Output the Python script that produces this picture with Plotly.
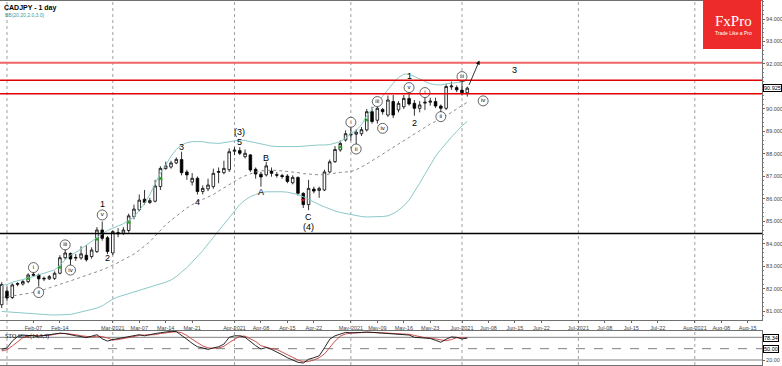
import pandas as pd
import plotly.graph_objects as go

# ---------------- data ----------------
dates = pd.bdate_range("2021-01-29", "2021-06-02")  # daily bars (weekdays)

open_ = [81.3, 81.9, 81.62, 82.2, 82.22, 82.33, 82.6, 82.62, 82.44, 82.45,
         82.47, 82.7, 83.39, 83.58, 83.37, 83.38, 83.5, 83.44, 83.66, 84.62,
         84.28, 83.6, 84.45, 84.48, 84.6, 85.22, 85.52, 85.99, 85.84, 85.9,
         86.55, 87.35, 87.42, 87.6, 87.75, 87.2, 86.75, 86.92, 86.33, 86.45,
         86.55, 87.18, 87.17, 87.3, 88.12, 88.15, 87.88, 87.96, 87.32, 87.1,
         87.07, 87.24, 87.08, 87.04, 87.02, 86.72, 86.96, 86.25, 85.75, 86.44,
         86.38, 86.4, 87.2, 87.66, 88.18, 88.62, 88.85, 88.88, 88.9, 89.07,
         89.88, 89.5, 89.98, 89.73, 90.33, 89.96, 90.1, 90.47, 90.25, 90.03,
         90.26, 90.3, 90.33, 90.13, 90.03, 90.98, 90.95, 90.84, 90.72]
high = [82.3, 82.1, 82.25, 82.3, 82.4, 82.7, 82.85, 82.68, 82.55, 82.62,
        82.78, 83.5, 83.8, 83.62, 83.55, 83.9, 83.95, 83.85, 84.75, 85.0,
        84.35, 84.6, 84.7, 84.75, 85.35, 85.75, 86.2, 86.4, 86.05, 86.85,
        87.45, 87.66, 87.7, 87.85, 88.1, 87.3, 87.15, 87.0, 86.6, 86.9,
        87.35, 87.4, 87.7, 88.25, 88.3, 88.3, 88.2, 88.0, 87.4, 87.2,
        87.65, 87.4, 87.2, 87.12, 87.1, 87.05, 87.0, 86.3, 86.85, 86.55,
        86.55, 87.3, 87.75, 88.35, 88.6, 89.05, 89.2, 89.1, 89.2, 90.0,
        90.1, 90.1, 90.05, 90.6, 90.62, 90.35, 90.62, 90.85, 90.4, 90.35,
        90.6, 90.5, 90.5, 90.2, 91.1, 91.22, 91.05, 91.3, 91.0]
low = [81.15, 81.45, 81.55, 82.12, 82.15, 82.25, 82.55, 82.1, 82.35, 82.4,
       82.4, 82.65, 83.3, 83.05, 83.25, 83.3, 83.22, 83.35, 83.6, 84.15,
       83.55, 83.5, 84.3, 84.4, 84.5, 85.1, 85.45, 85.75, 85.78, 85.85,
       86.4, 87.3, 87.35, 87.55, 87.05, 86.85, 86.6, 86.2, 86.2, 86.35,
       86.45, 86.7, 87.1, 87.2, 87.95, 87.95, 87.8, 87.2, 86.9, 86.55,
       87.0, 86.99, 86.95, 86.9, 86.7, 86.65, 86.15, 85.6, 85.5, 86.25,
       86.05, 86.35, 87.15, 87.6, 88.1, 88.55, 88.6, 88.4, 88.8, 89.0,
       89.35, 89.35, 89.75, 89.65, 89.6, 89.85, 90.0, 90.15, 89.7, 89.85,
       89.95, 90.15, 90.05, 89.8, 89.95, 90.85, 90.75, 90.6, 90.55]
close = [82.2, 81.6, 82.18, 82.24, 82.33, 82.62, 82.65, 82.45, 82.47, 82.55,
         82.7, 83.39, 83.6, 83.33, 83.4, 83.56, 83.3, 83.73, 84.62, 84.25,
         83.66, 84.55, 84.5, 84.62, 85.25, 85.55, 85.95, 85.85, 85.93, 86.58,
         87.36, 87.47, 87.6, 87.76, 87.17, 87.07, 86.92, 86.33, 86.47, 86.62,
         87.14, 87.22, 87.36, 88.1, 88.17, 88.03, 88.03, 87.29, 87.11, 86.98,
         87.47, 87.14, 87.06, 87.0, 86.78, 86.96, 86.25, 85.75, 86.47, 86.35,
         86.47, 87.2, 87.65, 88.2, 88.47, 88.9, 88.88, 88.97, 89.08, 89.88,
         89.44, 90.03, 89.88, 90.4, 89.73, 90.25, 90.47, 90.22, 90.03, 90.18,
         90.3, 90.35, 90.13, 90.03, 91.0, 91.02, 90.85, 90.72, 90.925]

bb_upper = [82.15, 82.2, 82.3, 82.35, 82.4, 82.48, 82.55, 82.62, 82.68, 82.75,
            82.85, 83.05, 83.3, 83.5, 83.62, 83.78, 83.95, 84.15, 84.3, 84.45,
            84.6, 84.7, 84.8, 84.9, 85.05, 85.2, 85.5, 85.8, 86.2, 86.65,
            87.15, 87.5, 87.9, 88.2, 88.4, 88.5, 88.55, 88.55, 88.55, 88.5,
            88.48, 88.47, 88.5, 88.55, 88.6, 88.62, 88.6, 88.55, 88.5, 88.42,
            88.38, 88.35, 88.33, 88.32, 88.32, 88.33, 88.33, 88.35, 88.37, 88.4,
            88.4, 88.4, 88.42, 88.48, 88.55, 88.7, 88.9, 89.05, 89.3, 89.7,
            90.0, 90.3, 90.6, 90.9, 91.15, 91.4, 91.55, 91.55, 91.45, 91.32,
            91.22, 91.12, 91.08, 91.07, 91.12, 91.15, 91.15, 91.2, 91.28]
bb_mid = [81.62, 81.65, 81.68, 81.72, 81.76, 81.8, 81.85, 81.9, 81.97, 82.05,
          82.12, 82.2, 82.28, 82.36, 82.44, 82.52, 82.6, 82.67, 82.75, 82.85,
          82.95, 83.05, 83.17, 83.3, 83.42, 83.55, 83.72, 83.9, 84.1, 84.35,
          84.6, 84.85, 85.05, 85.25, 85.42, 85.6, 85.75, 85.88, 85.98, 86.08,
          86.2, 86.35, 86.5, 86.65, 86.8, 86.92, 87.03, 87.12, 87.2, 87.25,
          87.28, 87.28, 87.27, 87.25, 87.22, 87.2, 87.17, 87.13, 87.1, 87.08,
          87.07, 87.08, 87.12, 87.15, 87.18, 87.2, 87.22, 87.3, 87.42, 87.55,
          87.7, 87.85, 88.0, 88.15, 88.3, 88.45, 88.6, 88.75, 88.9, 89.05,
          89.2, 89.33, 89.45, 89.57, 89.7, 89.85, 90.0, 90.15, 90.3]
bb_lower = [81.0, 80.98, 80.96, 80.95, 80.93, 80.92, 80.9, 80.88, 80.86, 80.85,
            80.84, 80.84, 80.85, 80.87, 80.92, 80.98, 81.05, 81.1, 81.15, 81.25,
            81.4, 81.55, 81.65, 81.72, 81.8, 81.87, 81.95, 82.02, 82.1, 82.17,
            82.24, 82.3, 82.4, 82.55, 82.75, 82.95, 83.2, 83.45, 83.7, 84.0,
            84.3, 84.6, 84.9, 85.2, 85.5, 85.75, 85.95, 86.1, 86.2, 86.28,
            86.32, 86.33, 86.33, 86.32, 86.3, 86.25, 86.2, 86.1, 85.98, 85.85,
            85.75, 85.65, 85.55, 85.47, 85.4, 85.35, 85.3, 85.25, 85.22, 85.2,
            85.2, 85.2, 85.22, 85.25, 85.35, 85.5, 85.7, 85.95, 86.3, 86.7,
            87.1, 87.5, 87.9, 88.2, 88.5, 88.75, 89.0, 89.25, 89.45]

sto_k = [48, 52, 70, 82, 86, 86, 84, 83, 85, 88, 90, 91, 90, 86, 84, 82, 79, 83, 87, 76,
         70, 74, 77, 79, 83, 86, 87, 84, 88, 90, 92, 94, 96, 95, 86, 75, 64, 55, 52, 48,
         52, 55, 62, 80, 84, 84, 80, 68, 58, 49, 53, 48, 42, 34, 26, 19, 14, 12, 22, 26,
         31, 52, 75, 84, 89, 93, 92, 92, 93, 94, 93, 93, 91, 90, 89.5, 88.5, 88.5, 86, 80, 79,
         79, 77, 72, 67, 75, 81, 80, 75.5, 78.34]
sto_d = [44, 47, 57, 68, 79, 84, 85, 84, 84, 85, 88, 90, 90, 89, 87, 84, 82, 81, 83, 82,
         78, 73, 74, 77, 80, 83, 85, 86, 86, 87, 90, 92, 94, 95, 92, 85, 75, 65, 57, 52,
         51, 52, 56, 66, 75, 83, 83, 77, 69, 58, 53, 50, 48, 41, 34, 26, 20, 15, 16, 20,
         26, 36, 53, 70, 83, 89, 91, 92, 92, 93, 93, 93, 92, 91, 90, 89, 89, 88, 85, 82,
         79, 78, 76, 72, 71, 74, 79, 79, 78]

wave_dates = ["2021-02-25", "2021-02-26", "2021-03-18", "2021-03-23", "2021-04-02",
              "2021-04-02", "2021-04-08", "2021-04-09", "2021-04-21", "2021-04-21",
              "2021-05-18", "2021-05-19", "2021-06-15"]
wave_prices = [85.76, 83.36, 88.33, 85.88, 88.98, 88.53, 86.33, 87.82, 85.21, 84.77,
               91.47, 89.36, 91.73]
wave_text = ["1", "2", "3", "4", "(3)", "5", "A", "B", "C", "(4)", "1", "2", "3"]

sub_dates = ["2021-02-08", "2021-02-09", "2021-02-16", "2021-02-17", "2021-02-25",
             "2021-05-03", "2021-05-04", "2021-05-10", "2021-05-11", "2021-05-18",
             "2021-05-21", "2021-05-26", "2021-06-01", "2021-06-07"]
sub_prices = [82.95, 81.84, 83.96, 82.84, 85.29, 89.41, 88.22, 90.33, 89.14, 90.95,
              90.73, 89.66, 91.44, 90.36]
sub_text = ["i", "ii", "iii", "iv", "v", "i", "ii", "iii", "iv", "v", "i", "ii", "iii", "iv"]

up_sig_dates = ["2021-02-05", "2021-02-15", "2021-02-24", "2021-03-04", "2021-03-12",
                "2021-04-29", "2021-05-06"]
up_sig_prices = [82.45, 82.95, 84.2, 84.95, 86.9, 88.3, 89.5]
dn_sig_dates = ["2021-04-20"]
dn_sig_prices = [85.95]

red_levels = [92.06, 91.28, 90.68]
black_levels = [84.47]
last_price = 90.925
last_sto = 78.34

tick_dates = ["2021-02-08", "2021-02-15", "2021-03-01", "2021-03-08", "2021-03-15",
              "2021-03-22", "2021-04-01", "2021-04-08", "2021-04-15", "2021-04-22",
              "2021-05-03", "2021-05-10", "2021-05-17", "2021-05-24", "2021-06-01",
              "2021-06-08", "2021-06-15", "2021-06-22", "2021-07-01", "2021-07-08",
              "2021-07-15", "2021-07-22", "2021-08-02", "2021-08-09", "2021-08-16"]
tick_text = ["Feb-07", "Feb-14", "Mar-2021", "Mar-07", "Mar-14", "Mar-21", "Apr-2021",
             "Apr-08", "Apr-15", "Apr-22", "May-2021", "May-09", "May-16", "May-23",
             "Jun-2021", "Jun-08", "Jun-15", "Jun-22", "Jul-2021", "Jul-08", "Jul-15",
             "Jul-22", "Aug-2021", "Aug-08", "Aug-15"]
month_starts = ["2021-02-01", "2021-03-01", "2021-04-01", "2021-05-03", "2021-06-01",
                "2021-07-01", "2021-08-02"]
price_ticks = [81, 82, 83, 84, 85, 86, 87, 88, 89, 90, 92, 93, 94]

# ------------- helpers -------------
H12 = pd.Timedelta(hours=12)


def mid(ds):
    return [pd.Timestamp(d) + H12 for d in ds]


X = dates + H12
FONT = "Liberation Sans, Arial, sans-serif"
BREAKS = [dict(bounds=["sat", "mon"])]
XRANGE = ["2021-01-29 04:20", "2021-08-19 04:50"]

fig = go.Figure()

fig.add_trace(go.Scatter(x=X, y=bb_upper, mode="lines", line=dict(color="#8cc8c8", width=1),
                         hoverinfo="skip"))
fig.add_trace(go.Scatter(x=X, y=bb_lower, mode="lines", line=dict(color="#8cc8c8", width=1),
                         hoverinfo="skip"))
fig.add_trace(go.Scatter(x=X, y=bb_mid, mode="lines",
                         line=dict(color="#8c8c8c", width=1, dash="dot"), hoverinfo="skip"))

fig.add_trace(go.Candlestick(
    x=X, open=open_, high=high, low=low, close=close,
    increasing=dict(line=dict(color="#000000", width=0.8), fillcolor="#ffffff"),
    decreasing=dict(line=dict(color="#000000", width=0.8), fillcolor="#000000"),
    whiskerwidth=0, showlegend=False))

fig.add_trace(go.Scatter(x=mid(up_sig_dates), y=up_sig_prices, mode="markers",
                         marker=dict(symbol="triangle-up", size=4, color="#1aa51a")))
fig.add_trace(go.Scatter(x=mid(dn_sig_dates), y=dn_sig_prices, mode="markers",
                         marker=dict(symbol="triangle-down", size=4, color="#d01010")))

fig.add_trace(go.Scatter(
    x=mid(sub_dates), y=sub_prices, mode="markers+text", text=sub_text,
    textposition="middle center", textfont=dict(family=FONT, size=6, color="#000"),
    marker=dict(symbol="circle", size=10, color="#ffffff", line=dict(color="#222", width=0.7))))

for d, p, t in zip(wave_dates, wave_prices, wave_text):
    fig.add_annotation(x=pd.Timestamp(d) + H12, y=p, text=t, showarrow=False,
                       font=dict(family=FONT, size=9, color="#000"), xref="x", yref="y")

# stochastic
fig.add_trace(go.Scatter(x=X, y=sto_d, mode="lines", line=dict(color="#c83c3c", width=0.9),
                         xaxis="x2", yaxis="y2"))
fig.add_trace(go.Scatter(x=X, y=sto_k, mode="lines", line=dict(color="#111111", width=0.9),
                         xaxis="x2", yaxis="y2"))

shapes = []
for d in month_starts:
    shapes.append(dict(type="line", xref="x", yref="paper", x0=pd.Timestamp(d) + H12,
                       x1=pd.Timestamp(d) + H12, y0=0, y1=1,
                       line=dict(color="#a0a0a0", width=1, dash="dot"), layer="below"))
for i, lv in enumerate(red_levels):
    shapes.append(dict(type="line", xref="paper", yref="y", x0=0, x1=1, y0=lv, y1=lv,
                       line=dict(color="#f06464" if i == 0 else "#e00000",
                                 width=2 if i == 0 else 1.5)))
for lv in black_levels:
    shapes.append(dict(type="line", xref="paper", yref="y", x0=0, x1=1, y0=lv, y1=lv,
                       line=dict(color="#000000", width=1.5)))
for lv, dash in [(80, "solid"), (50, "dash"), (20, "solid")]:
    shapes.append(dict(type="line", xref="paper", yref="y2", x0=0, x1=1, y0=lv, y1=lv,
                       line=dict(color="#808080", width=1, dash=dash), layer="below"))
# logo box
shapes.append(dict(type="rect", xref="paper", yref="paper", x0=0.9226, x1=0.9987,
                   y0=0.868, y1=1.003, fillcolor="#ee2b2b", line=dict(width=0)))

fig.update_layout(shapes=shapes)

# arrow
fig.add_annotation(x=pd.Timestamp("2021-06-04 19:00"), y=92.15,
                   ax=pd.Timestamp("2021-06-02 17:00"), ay=91.0,
                   xref="x", yref="y", axref="x", ayref="y", text="", showarrow=True,
                   arrowhead=2, arrowsize=1, arrowwidth=0.8, arrowcolor="#000")

# texts
fig.add_annotation(xref="paper", yref="paper", x=0.003, y=0.997, xanchor="left", yanchor="top",
                   text="<b>CADJPY - 1 day</b>", showarrow=False,
                   font=dict(family=FONT, size=7, color="#000"))
fig.add_annotation(xref="paper", yref="paper", x=0.004, y=0.974, xanchor="left", yanchor="top",
                   text="BB(20,20,2.0,3.0)", showarrow=False,
                   font=dict(family=FONT, size=5, color="#3a9a9a"))
fig.add_annotation(xref="paper", yref="paper", x=0.004, y=0.094, xanchor="left", yanchor="top",
                   text="STO Slow(14,3,3)", showarrow=False,
                   font=dict(family="Liberation Serif, serif", size=6, color="#000"))
fig.add_annotation(xref="paper", yref="paper", x=0.962, y=0.945, xanchor="center",
                   yanchor="middle", text="FxPro", showarrow=False,
                   font=dict(family="Liberation Serif, DejaVu Serif, serif", size=15,
                             color="#ffffff"))
fig.add_annotation(xref="paper", yref="paper", x=0.962, y=0.912, xanchor="center",
                   yanchor="middle", text="Trade Like a Pro", showarrow=False,
                   font=dict(family=FONT, size=5, color="#ffffff"))
fig.add_annotation(xref="paper", yref="y", x=1, y=last_price, xanchor="left", yanchor="middle",
                   text=f"{last_price:.3f}", showarrow=False, bgcolor="#ffffff",
                   bordercolor="#000", borderwidth=1, borderpad=0, xshift=1,
                   font=dict(family=FONT, size=5.5, color="#000"))
fig.add_annotation(xref="paper", yref="y2", x=1, y=last_sto, xanchor="left", yanchor="middle",
                   text=f"{last_sto:.2f}", showarrow=False, bgcolor="#ffffff",
                   bordercolor="#000", borderwidth=1, borderpad=0, xshift=1,
                   font=dict(family=FONT, size=5.5, color="#000"))
fig.add_annotation(xref="paper", yref="y2", x=1, y=50, xanchor="left", yanchor="middle",
                   text="50.00", showarrow=False, bgcolor="#ffffff",
                   bordercolor="#000", borderwidth=1, borderpad=0, xshift=1,
                   font=dict(family=FONT, size=5.5, color="#000"))

axis_common = dict(showgrid=False, zeroline=False, showline=True, linecolor="#707070",
                   linewidth=1, mirror=True, automargin=False)
fig.update_layout(
    template="none",
    width=782, height=366, margin=dict(l=0, r=20, t=1, b=1, pad=0),
    paper_bgcolor="#ffffff", plot_bgcolor="#ffffff", showlegend=False,
    font=dict(family=FONT, size=6, color="#444"),
    xaxis=dict(domain=[0, 1], anchor="y", range=XRANGE, rangebreaks=BREAKS,
               rangeslider=dict(visible=False), tickmode="array",
               tickvals=mid(tick_dates), ticktext=tick_text,
               tickfont=dict(family=FONT, size=5.5, color="#444"),
               ticks="outside", ticklen=2, tickcolor="#666", **axis_common),
    yaxis=dict(domain=[0.1236, 1], anchor="x", side="right", range=[80.62, 94.8],
               tickmode="array", tickvals=price_ticks, tickformat=".3f", ticks="outside",
               ticklen=2, tickcolor="#666", tickfont=dict(family=FONT, size=5.5, color="#444"),
               minor=dict(dtick=0.2, tick0=0, ticks="outside", ticklen=1, tickcolor="#888"),
               **axis_common),
    xaxis2=dict(domain=[0, 1], anchor="y2", matches="x", range=XRANGE, rangebreaks=BREAKS,
                showticklabels=False, ticks="", **axis_common),
    yaxis2=dict(domain=[0, 0.0934], anchor="x2", side="right", range=[6.8, 96.7],
                tickvals=[20], ticktext=["20.00"], ticks="outside", ticklen=2,
                tickcolor="#666", tickfont=dict(family=FONT, size=5.5, color="#444"),
                **axis_common),
)

fig.write_html("out.html", config={"displayModeBar": False},
               post_script="document.body.style.margin='0';document.body.style.overflow='hidden';")
